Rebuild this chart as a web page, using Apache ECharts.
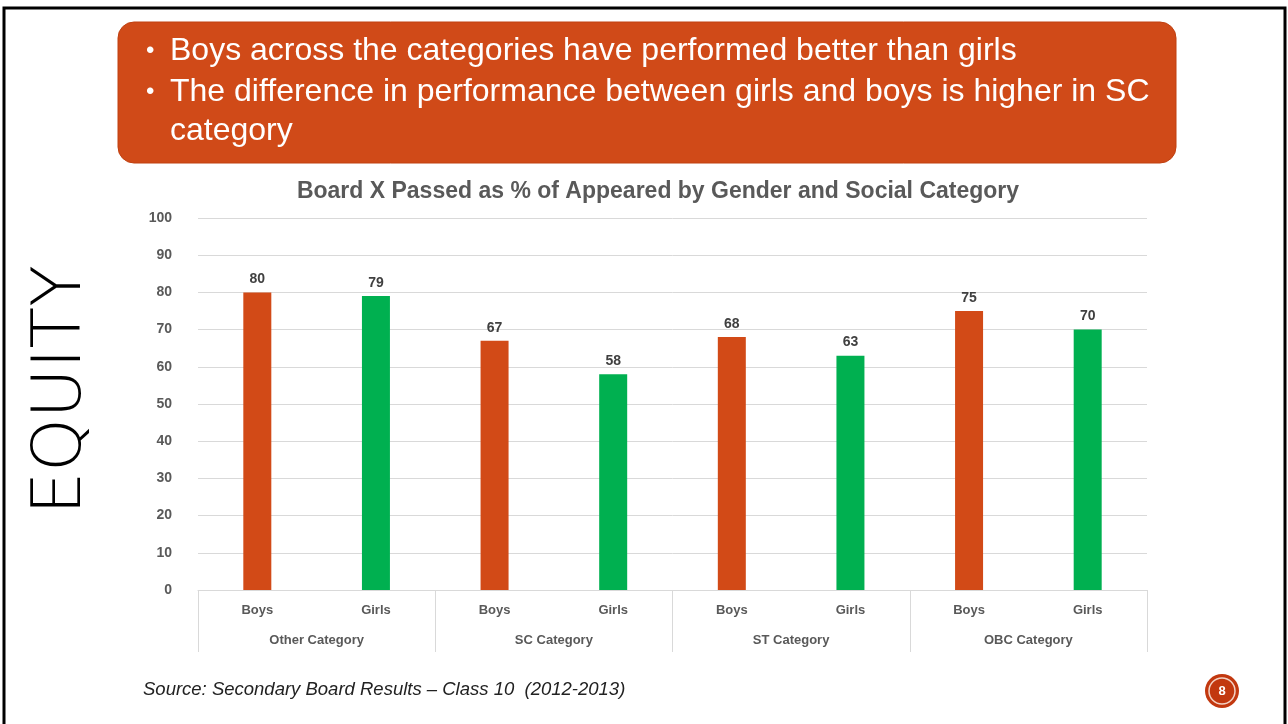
<!DOCTYPE html>
<html>
<head>
<meta charset="utf-8">
<title>Board X Passed as % of Appeared</title>
<script src="https://cdn.jsdelivr.net/npm/echarts@6/dist/echarts.min.js"></script>
<style>
  html, body { margin: 0; padding: 0; background: #fff; }
  #main { width: 1288px; height: 724px; }
</style>
</head>
<body>
<div id="main"></div>
<script>
  // chart data
  const groups = ["Other Category", "SC Category", "ST Category", "OBC Category"];
  const genders = ["Boys", "Girls", "Boys", "Girls", "Boys", "Girls", "Boys", "Girls"];
  const passedPct = [80, 79, 67, 58, 68, 63, 75, 70];
  const bullets = [
    "Boys across the categories have performed better than girls",
    "The difference in performance between girls and boys is higher in SC",
    "category"
  ];

  const genderColor = { Boys: "#D24A17", Girls: "#00B050" };
  const grey = "#595959";
  const font = "Liberation Sans, Arial, sans-serif";

  const chart = echarts.init(document.getElementById("main"));

  // slide decorations
  const bulletGraphics = [];
  const lineY = [51, 92, 131];
  bullets.forEach((t, i) => {
    if (i < 2) {
      bulletGraphics.push({
        type: "text",
        style: { text: "•", x: 146, y: lineY[i], verticalAlign: "middle", fill: "#fff", font: "24px " + font }
      });
    }
    bulletGraphics.push({
      type: "text",
      style: { text: t, x: 170, y: lineY[i], verticalAlign: "middle", fill: "#fff", font: "32px " + font }
    });
  });

  chart.setOption({
    backgroundColor: "#fff",
    animation: false,
    title: {
      text: "Board X Passed as % of Appeared by Gender and Social Category",
      left: 653,
      top: 175,
      textAlign: "center",
      textStyle: { color: grey, fontSize: 23, fontWeight: "bold", fontFamily: font }
    },
    grid: { left: 198, right: 141, top: 218, bottom: 134, containLabel: false },
    xAxis: [
      {
        type: "category",
        data: genders,
        axisLine: { show: false },
        axisTick: { show: false },
        axisLabel: { color: grey, fontSize: 13, fontWeight: "bold", fontFamily: font, margin: 14 }
      },
      {
        type: "category",
        data: groups,
        position: "bottom",
        axisLine: { show: true, lineStyle: { color: "#d9d9d9", width: 1 } },
        axisTick: { show: true, length: 62, lineStyle: { color: "#d9d9d9" } },
        axisLabel: { color: grey, fontSize: 13, fontWeight: "bold", fontFamily: font, margin: 44 }
      }
    ],
    yAxis: {
      type: "value",
      min: 0,
      max: 100,
      interval: 10,
      axisLine: { show: false },
      axisTick: { show: false },
      axisLabel: { color: grey, fontSize: 14, fontWeight: "bold", fontFamily: font, margin: 26 },
      splitLine: { lineStyle: { color: "#d9d9d9", width: 1 } }
    },
    series: [
      {
        type: "bar",
        xAxisIndex: 0,
        barWidth: 28,
        data: passedPct.map((v, i) => ({ value: v, itemStyle: { color: genderColor[genders[i]] } })),
        label: {
          show: true,
          position: "top",
          distance: 6,
          color: "#404040",
          fontSize: 14,
          fontWeight: "bold",
          fontFamily: font
        }
      }
    ],
    graphic: [
      {
        type: "rect",
        shape: { x: 4, y: 8, width: 1281, height: 800 },
        style: { fill: "none", stroke: "#000", lineWidth: 3 }
      },
      {
        type: "rect",
        shape: { x: 118, y: 22, width: 1058, height: 141, r: 16 },
        style: { fill: "#D04A18", stroke: "#c04010", lineWidth: 1 }
      },
      ...bulletGraphics,
      {
        type: "text",
        x: 62,
        y: 390,
        rotation: Math.PI / 2,
        style: {
          text: "EQUITY",
          align: "center",
          verticalAlign: "middle",
          fill: "#000",
          font: "200 68px 'DejaVu Sans', sans-serif"
        }
      },
      {
        type: "text",
        style: {
          text: "Source: Secondary Board Results \u2013 Class 10  (2012-2013)",
          x: 143,
          y: 690,
          verticalAlign: "middle",
          fill: "#222",
          font: "italic 18.5px " + font
        }
      },
      {
        type: "circle",
        shape: { cx: 1222, cy: 691, r: 17 },
        style: { fill: "#C2380F" }
      },
      {
        type: "circle",
        shape: { cx: 1222, cy: 691, r: 13 },
        style: { fill: "none", stroke: "#f3d2c4", lineWidth: 1.5 }
      },
      {
        type: "text",
        style: {
          text: "8",
          x: 1222,
          y: 691,
          align: "center",
          verticalAlign: "middle",
          fill: "#fff",
          font: "bold 13px " + font
        }
      }
    ]
  });
</script>
</body>
</html>
